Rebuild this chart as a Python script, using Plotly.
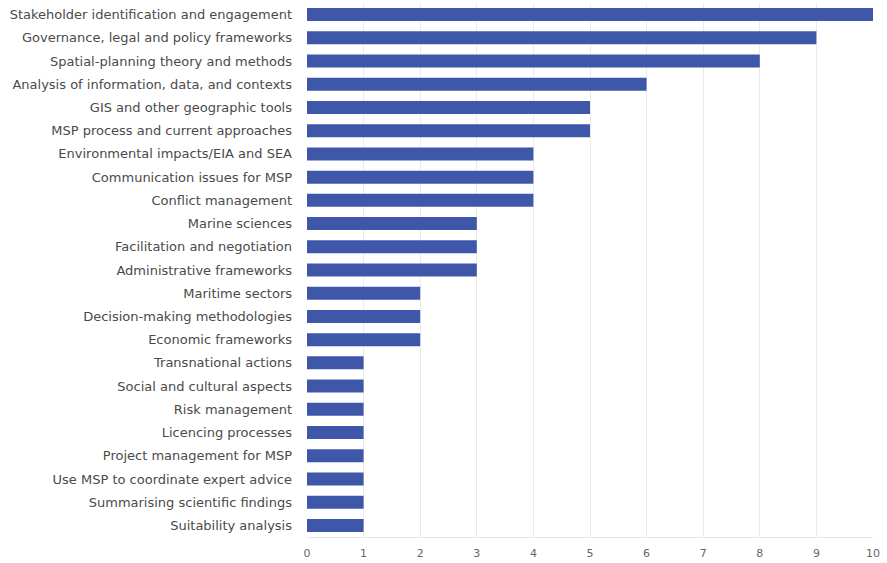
import plotly.graph_objects as go

categories = [
    "Stakeholder identification and engagement",
    "Governance, legal and policy frameworks",
    "Spatial-planning theory and methods",
    "Analysis of information, data, and contexts",
    "GIS and other geographic tools",
    "MSP process and current approaches",
    "Environmental impacts/EIA and SEA",
    "Communication issues for MSP",
    "Conflict management",
    "Marine sciences",
    "Facilitation and negotiation",
    "Administrative frameworks",
    "Maritime sectors",
    "Decision-making methodologies",
    "Economic frameworks",
    "Transnational actions",
    "Social and cultural aspects",
    "Risk management",
    "Licencing processes",
    "Project management for MSP",
    "Use MSP to coordinate expert advice",
    "Summarising scientific findings",
    "Suitability analysis",
]
values = [10, 9, 8, 6, 5, 5, 4, 4, 4, 3, 3, 3, 2, 2, 2, 1, 1, 1, 1, 1, 1, 1, 1]
x_ticks = list(range(0, 11))

fig = go.Figure(go.Bar(
    y=categories, x=values, orientation="h",
    marker=dict(color="#3f57a9", line=dict(width=0)),
    width=0.56,
))

fig.update_layout(
    width=887, height=563,
    margin=dict(l=307, r=14, t=3, b=26, autoexpand=False),
    plot_bgcolor="white", paper_bgcolor="white",
    showlegend=False,
    font=dict(family="DejaVu Sans", color="#444444"),
)
fig.update_xaxes(
    range=[0, 10], tickvals=x_ticks, ticktext=[str(t) for t in x_ticks],
    showgrid=True, gridcolor="#ebebeb", gridwidth=1,
    zeroline=False, showline=True, linecolor="#e6e6e6", mirror=False,
    tickfont=dict(size=11, color="#666666"), ticklabelstandoff=6,
)
fig.update_yaxes(
    categoryorder="array", categoryarray=categories, autorange="reversed",
    showgrid=False, zeroline=False, showline=False,
    tickfont=dict(size=13, color="#4a4a4a"), ticklabelstandoff=14,
)

fig.write_html("out.html", config={"displayModeBar": False},
               post_script="document.body.style.margin='0';")
